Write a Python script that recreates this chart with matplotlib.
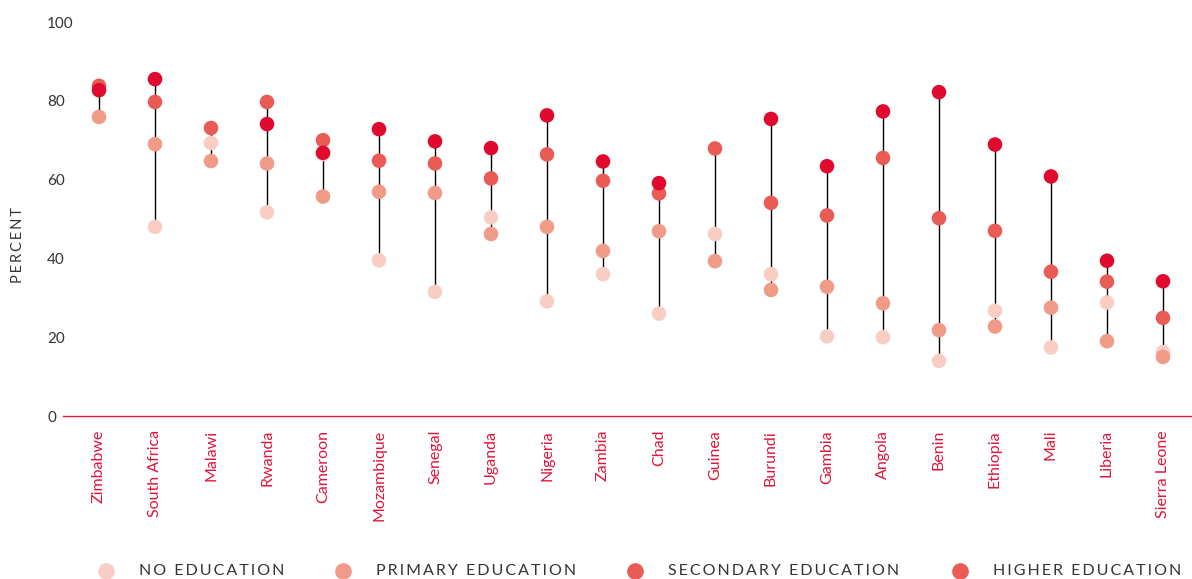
import numpy as np
import matplotlib
matplotlib.use("Agg")
import matplotlib.pyplot as plt
from matplotlib.lines import Line2D

plt.rcParams['font.family'] = ['Lato', 'DejaVu Sans']

countries = ['Zimbabwe', 'South Africa', 'Malawi', 'Rwanda', 'Cameroon', 'Mozambique',
             'Senegal', 'Uganda', 'Nigeria', 'Zambia', 'Chad', 'Guinea', 'Burundi',
             'Gambia', 'Angola', 'Benin', 'Ethiopia', 'Mali', 'Liberia', 'Sierra Leone']
no_edu = [np.nan, 48.0, 69.3, 51.7, 66.5, 39.5, 31.5, 50.4, 29.1, 36.0, 26.0, 46.2,
          36.0, 20.2, 20.0, 14.0, 26.7, 17.4, 28.8, 16.2]
primary = [75.9, 69.0, 64.7, 64.1, 55.7, 56.9, 56.6, 46.2, 48.0, 41.9, 46.9, 39.3,
           32.0, 32.8, 28.6, 21.8, 22.7, 27.5, 19.0, 15.0]
secondary = [83.8, 79.7, 73.1, 79.7, 70.0, 64.8, 64.1, 60.3, 66.4, 59.7, 56.5, 67.9,
             54.1, 50.9, 65.5, 50.2, 47.0, 36.6, 34.1, 24.9]
higher = [82.7, 85.5, np.nan, 74.1, 66.8, 72.8, 69.7, 68.0, 76.3, 64.6, 59.1, np.nan,
          75.4, 63.4, 77.3, 82.2, 68.9, 60.8, 39.4, 34.2]

labels = ['NO EDUCATION', 'PRIMARY EDUCATION', 'SECONDARY EDUCATION', 'HIGHER EDUCATION']
colors = ['#F8CEC4', '#F09A88', '#E85C55', '#DF0A2E']
legend_colors = ['#F8CEC4', '#F09A88', '#E85C55', '#E85C55']  # legend repeats secondary colour

red = '#E0153A'


def spaced(s):
    return '\u2009'.join(s)


fig = plt.figure(figsize=(11.92, 5.79), dpi=100)
ax = fig.add_axes([63 / 1192, 1 - 416 / 579, 1 - 63 / 1192, (416 - 22) / 579])

x = np.arange(len(countries))
series = [no_edu, primary, secondary, higher]
arr = np.array(series, dtype=float)
lo = np.nanmin(arr, axis=0)
hi = np.nanmax(arr, axis=0)
ax.vlines(x, lo, hi, color='black', lw=1.0, zorder=1)

for vals, c in zip(series, colors):
    ax.scatter(x, vals, s=110, color=c, edgecolors='none', zorder=2)

ax.set_xlim(-0.643, 19.518)
ax.set_ylim(0, 100)
for s in ['top', 'right', 'left']:
    ax.spines[s].set_visible(False)
ax.spines['bottom'].set_color(red)
ax.spines['bottom'].set_linewidth(1.0)

ax.set_yticks([0, 20, 40, 60, 80, 100])
ax.tick_params(axis='y', length=0, pad=11.5, labelsize=11, labelcolor='#333333')
for t in ax.get_yticklabels():
    t.set_horizontalalignment('left')

ax.set_xticks(x)
ax.set_xticklabels(countries, rotation=90, color=red, fontsize=11.5)
ax.tick_params(axis='x', length=0, pad=10)

fig.text(18 / 1192, 1 - 245 / 579, spaced('PERCENT'), rotation=90, ha='center', va='center',
         fontsize=10.5, color='#333333')

# legend along the bottom
mx = [106, 343, 635, 960]
tx = [139, 376, 668, 993]
ly = 1 - 571 / 579
for m, t, lab, c in zip(mx, tx, labels, legend_colors):
    fig.add_artist(Line2D([m / 1192], [ly], marker='o', markersize=12, color=c,
                          markeredgewidth=0, linestyle='none'))
    fig.text(t / 1192, ly, spaced(lab), ha='left', va='center', fontsize=11.5, color='#333333')

fig.savefig('out.png', dpi=100)
